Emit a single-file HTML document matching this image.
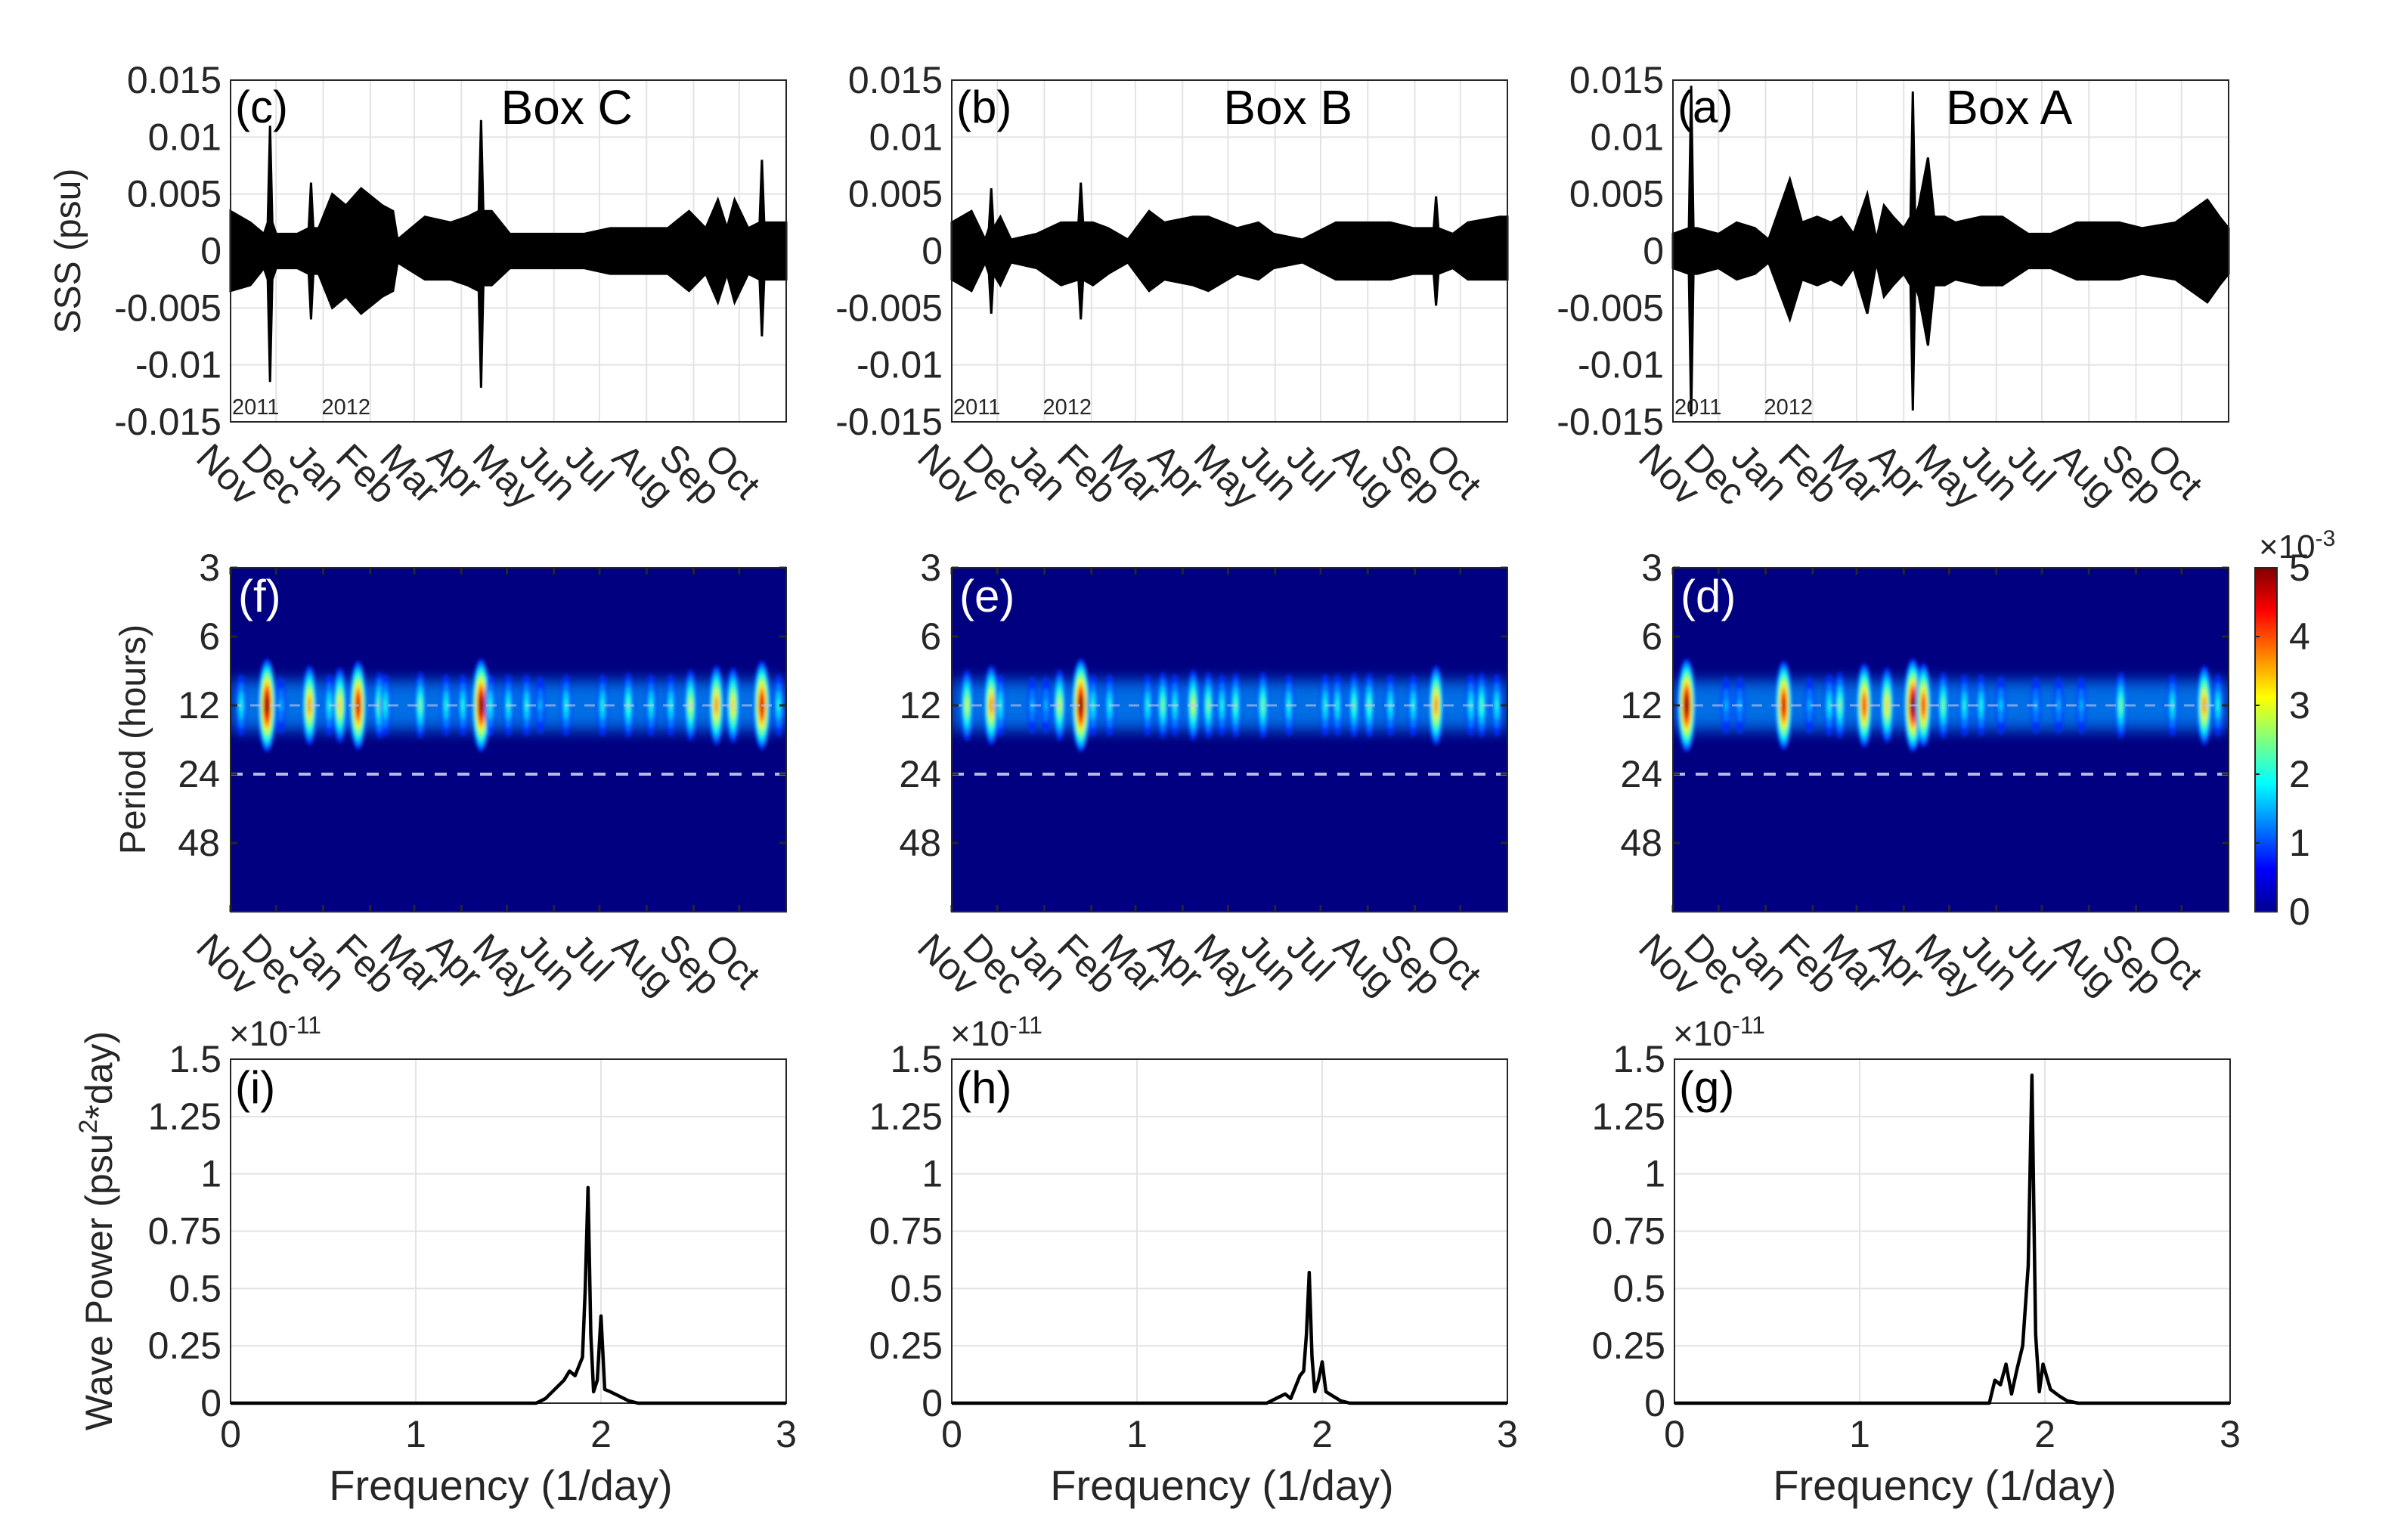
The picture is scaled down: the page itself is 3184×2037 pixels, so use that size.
<!DOCTYPE html>
<html><head><meta charset="utf-8"><style>
html,body{margin:0;padding:0;background:#fff;}
svg{display:block;font-family:"Liberation Sans",sans-serif;}
</style></head><body>
<svg id="fig" width="3184" height="2037" viewBox="0 0 3184 2037" xmlns="http://www.w3.org/2000/svg">
<defs>
<filter id="blur" x="-50%" y="-50%" width="200%" height="200%"><feGaussianBlur stdDeviation="2.5"/></filter>
<filter id="blurBand" x="-10%" y="-100%" width="120%" height="300%"><feGaussianBlur stdDeviation="10"/></filter>
<linearGradient id="jetbar" x1="0" y1="1" x2="0" y2="0">
<stop offset="0" stop-color="#00008f"/><stop offset="0.125" stop-color="#0000ff"/><stop offset="0.375" stop-color="#00ffff"/><stop offset="0.625" stop-color="#ffff00"/><stop offset="0.875" stop-color="#ff0000"/><stop offset="1" stop-color="#800000"/>
</linearGradient>
</defs>
</svg>
<script>
// ---------- DATA ----------
const monthLabels = ["Nov","Dec","Jan","Feb","Mar","Apr","May","Jun","Jul","Aug","Sep","Oct"];
const monthLengths = [30,31,31,29,31,30,31,30,31,31,30,31];
const sssTicks = [0.015,0.01,0.005,0,-0.005,-0.01,-0.015];
const sssTickLabels = ["0.015","0.01","0.005","0","-0.005","-0.01","-0.015"];
const periodTicks = [3,6,12,24,48];
const cbarTicks = [0,1,2,3,4,5];
const freqTicks = [0,1,2,3];
const powTicks = [0,0.25,0.5,0.75,1,1.25,1.5];
const powTickLabels = ["0","0.25","0.5","0.75","1","1.25","1.5"];

// SSS envelope (units 1e-3 psu): days, upper, lower
const cDays  = [0,13,22,24.5,26,27.5,30,44,51.5,53,54.5,58,67,76,86,100,107,110,128,145,156,163.5,165,166.5,172,184,198,219,233,250,267,288,302,313,321,327,332,341,348.5,350,351.5,354,366];
const cUpper = [3.5,2.5,1.5,2.5,11,2.5,1.5,1.5,2,6,2,2,5,4,5.5,4,3.5,1,3,2.5,3,3.5,11.5,3.5,3.5,1.5,1.5,1.5,1.5,2,2,2,3.5,2,4.5,2,4.5,2,2.5,8,2.5,2.5,2.5];
const cLower = [-3.5,-3,-1.5,-2.5,-11.5,-2.5,-1.5,-1.5,-2,-6,-2,-2,-5,-4,-5.5,-4,-3.5,-1,-2.5,-2.5,-3,-3.5,-12,-3,-3,-1.5,-1.5,-1.5,-1.5,-2,-2,-2,-3.5,-2,-4.5,-2,-4.5,-2,-2.5,-7.5,-2.5,-2.5,-2.5];

const bDays  = [0,13,22,24.5,26,27.5,32,39,56,72,83.5,85,86.5,93,103,116,130,140,159,169,188,202,212,231,253,272,289,304,317.5,319,320.5,330,340,361,366];
const bUpper = [2.5,3.5,1,2,5.5,2,3,1,1.5,2.5,2.5,6,2.5,2.5,2,1,3.5,2.5,3,3,2,2.5,1.5,1,2.5,2.5,2.5,2,2,4.8,2,1.5,2.5,3,3];
const bLower = [-2.5,-3.5,-1,-2,-5.5,-2,-3,-1,-1.5,-3,-2.5,-6,-2.5,-3,-2,-1,-3.5,-2.5,-3,-3.5,-2,-2.5,-1.5,-1,-2.5,-2.5,-2.5,-2,-2,-4.8,-2,-1.5,-2.5,-2.5,-2.5];

const aDays  = [0,10.5,12,13.5,16,30,42,54,63,77,85,95,104,111,119,128,134,139,145,152,156.5,158,159.5,162,168,172,179,186,203,217,234,249,266,278,294,309,331,352,360,366];
const aUpper = [1.5,2,14.5,2,2,1.5,2.5,2,1,6.3,2.5,3,2.5,3,1.5,5,1,4,3,2,3,14,3,4,8.2,3,3,2.5,3,3,1.5,1.5,2.5,2.5,2.5,2,2.5,4.5,3,2];
const aLower = [-1.5,-2,-14.5,-2,-2,-1.5,-2.5,-2,-1,-6,-2.5,-3,-2.5,-3,-1.5,-5.5,-1,-4,-3,-2,-3,-14,-3,-4,-8.3,-3,-3,-2.5,-3,-3,-1.5,-1.5,-2.5,-2.5,-2.5,-2,-2.5,-4.5,-3,-2];

// Wavelet blobs at 12 h: day, power (1e-3)
const fDays = [7,24,33,52,65,72,84,98,102,125,142,153,165,171,183,195,204,221,245,262,277,290,303,320,331,350,361];
const fPow  = [1.5,5,1,3.5,1.5,3,4.5,2,1.5,2,1.5,1.5,5,1.5,1.5,1.5,1,1.5,1.5,1.8,1.5,1.5,2.5,3.5,3,4.5,1.5];
const eDays = [10,26,32,53,62,71,85,93,104,129,139,147,159,169,178,187,205,222,246,254,265,275,289,304,319,342,349,359];
const ePow  = [2.5,3.5,1.5,1,1,2.5,5,1.5,1.5,1.5,2,1.5,2.5,2,1.5,1.8,2,1.5,1.5,1.5,1.8,1.8,1.5,1.5,3.5,1.5,1.8,1.5];
const dDays = [9,35,44,73,90,103,110,126,141,158,165,178,192,203,216,239,254,269,295,329,350,359];
const dPow  = [5,1,1,4.5,1,1.5,2,4,3,5,4,2,1.5,1.5,1.2,1,1,1,2,1.5,3.5,1.5];

// Spectra (power in 1e-11)
const iFreq = [0,1.65,1.7,1.75,1.8,1.83,1.86,1.88,1.9,1.915,1.93,1.945,1.96,1.98,2.0,2.02,2.05,2.1,2.15,2.2,3];
const iPow  = [0,0,0.02,0.06,0.1,0.14,0.12,0.16,0.2,0.5,0.94,0.3,0.05,0.1,0.38,0.06,0.05,0.03,0.01,0,0];
const hFreq = [0,1.7,1.75,1.8,1.83,1.86,1.88,1.9,1.915,1.93,1.945,1.96,1.98,2.0,2.02,2.06,2.1,2.15,3];
const hPow  = [0,0,0.02,0.04,0.02,0.08,0.12,0.14,0.3,0.57,0.2,0.05,0.1,0.18,0.05,0.03,0.01,0,0];
const gFreq = [0,1.7,1.73,1.76,1.79,1.82,1.85,1.88,1.91,1.93,1.95,1.97,1.99,2.03,2.08,2.12,2.18,3];
const gPow  = [0,0,0.1,0.08,0.17,0.04,0.15,0.25,0.6,1.43,0.3,0.05,0.17,0.06,0.03,0.01,0,0];

// ---------- RENDER ----------
const svg = document.getElementById('fig');
const NS = "http://www.w3.org/2000/svg";
function mk(tag, attrs, parent){const e=document.createElementNS(NS,tag);for(const k in attrs)e.setAttribute(k,attrs[k]);(parent||svg).appendChild(e);return e;}
const colX = [305,1259,2213], PW = 735;
const R1=[106,558], R2=[751,1206], R3=[1401,1856];
const TICK=50;
const totalDays = monthLengths.reduce((a,b)=>a+b,0);
const monthStarts=[]; {let s=0; for(const m of monthLengths){monthStarts.push(s); s+=m;}}

function jet(v){
  const f=(x)=>Math.max(0,Math.min(1,x));
  const r=f(Math.min(4*v-1.5,-4*v+4.5)), g=f(Math.min(4*v-0.5,-4*v+3.5)), b=f(Math.min(4*v+0.5,-4*v+2.5));
  return `rgb(${Math.round(r*255)},${Math.round(g*255)},${Math.round(b*255)})`;
}

function monthLabelsAt(x0, yb, xs, gname){
  const g=mk('g',{});
  
  
  monthLabels.forEach((m,i)=>{
    const tx=xs(monthStarts[i])-48, ty=yb+50;
    const t=mk('text',{x:tx,y:ty,'font-size':50,fill:'#262626',transform:`rotate(45 ${tx} ${ty})`},g);
    t.textContent=m;
    
    
  });
}

// ---- Row 1 ----
const seriesTop = [
  {days:cDays,up:cUpper,lo:cLower,lab:"(c)",box:"Box C"},
  {days:bDays,up:bUpper,lo:bLower,lab:"(b)",box:"Box B"},
  {days:aDays,up:aUpper,lo:aLower,lab:"(a)",box:"Box A"}];
seriesTop.forEach((s,ci)=>{
  const x0=colX[ci], x1=x0+PW, y0=R1[0], y1=R1[1];
  const xs=d=>x0+d/totalDays*PW;
  const ys=v=>y1-(v+0.015)/0.03*(y1-y0);
  const g=mk('g',{});
  
  
  monthStarts.forEach(d=>{ if(d>0){const l=mk('line',{x1:xs(d),x2:xs(d),y1:y0,y2:y1,stroke:'#e3e3e3','stroke-width':2},g);  }});
  sssTicks.forEach(v=>{const l=mk('line',{x1:x0,x2:x1,y1:ys(v),y2:ys(v),stroke:'#e3e3e3','stroke-width':2},g);  });
  let pts=s.days.map((d,i)=>xs(d)+','+ys(s.up[i]/1000));
  pts=pts.concat(s.days.map((d,i)=>xs(d)+','+ys(s.lo[i]/1000)).reverse());
  const p=mk('polygon',{points:pts.join(' '),fill:'#000',stroke:'#000','stroke-width':3},g);
  
  
  const fr=mk('rect',{x:x0,y:y0,width:PW,height:y1-y0,fill:'none',stroke:'#262626','stroke-width':2},g);
   
  sssTicks.forEach((v,i)=>{const t=mk('text',{x:x0-12,y:ys(v)+17,'text-anchor':'end','font-size':TICK,fill:'#262626'},g); t.textContent=sssTickLabels[i];  });
  const y11=mk('text',{x:x0+2,y:y1-10,'font-size':29,fill:'#262626'},g); y11.textContent='2011';
   
  const y12=mk('text',{x:xs(monthStarts[2])-2,y:y1-10,'font-size':29,fill:'#262626'},g); y12.textContent='2012';
   
  const pl=mk('text',{x:x0+6,y:y0+56,'font-size':60,fill:'#000'},g); pl.textContent=s.lab;
   
  const bt=mk('text',{x:x0+PW*0.605,y:y0+58,'text-anchor':'middle','font-size':64,fill:'#000'},g); bt.textContent=s.box;
   
  monthLabelsAt(x0,y1,xs,'x-tick-labels-months');
});
{const t=mk('text',{x:0,y:0,'font-size':48,fill:'#262626','text-anchor':'middle',transform:'translate(106 332) rotate(-90)'}); t.textContent='SSS (psu)';  }

// ---- Row 2 ----
const seriesMid=[{days:fDays,pow:fPow,lab:"(f)"},{days:eDays,pow:ePow,lab:"(e)"},{days:dDays,pow:dPow,lab:"(d)"}];
seriesMid.forEach((s,ci)=>{
  const x0=colX[ci], x1=x0+PW, y0=R2[0], y1=R2[1];
  const xs=d=>x0+d/totalDays*PW;
  const ys=p=>y0+Math.log2(p/3)/5*(y1-y0);
  const g=mk('g',{});
  
  
  const clipId='clip'+ci;
  const cp=mk('clipPath',{id:clipId},g); mk('rect',{x:x0,y:y0,width:PW,height:y1-y0},cp);
  const bg=mk('rect',{x:x0,y:y0,width:PW,height:y1-y0,fill:jet(0)},g);
   
  const inner=mk('g',{'clip-path':`url(#${clipId})`},g);
  const band=mk('rect',{x:x0,y:ys(12)-32,width:PW,height:64,fill:jet(0.26),opacity:0.8,filter:'url(#blurBand)'},inner);
   
  const bl=mk('g',{filter:'url(#blur)'},inner);
  s.days.forEach((d,i)=>{
    const P=s.pow[i];
    const cell=mk('g',{},bl);
    
    
    const steps=Math.max(2,Math.round(P*2));
    for(let k=0;k<=steps;k++){
      const lev=P*k/steps;
      const sc=1-0.8*k/steps;
      mk('ellipse',{cx:xs(d),cy:ys(12),rx:(5+P*1.4)*sc,ry:(32+P*6)*sc,fill:jet(0.17+lev/5*0.83)},cell);
    }
  });
  const d12=mk('line',{x1:x0,x2:x1,y1:ys(12),y2:ys(12),stroke:'#c8c8f0','stroke-width':3,'stroke-dasharray':'14 12',opacity:0.6},inner);
   
  const d24=mk('line',{x1:x0,x2:x1,y1:ys(24),y2:ys(24),stroke:'#b8b8e8','stroke-width':4,'stroke-dasharray':'16 14'},inner);
   
  const fr=mk('rect',{x:x0,y:y0,width:PW,height:y1-y0,fill:'none',stroke:'#262626','stroke-width':2},g);
   
  monthStarts.forEach(d=>{mk('line',{x1:xs(d),x2:xs(d),y1:y0,y2:y0+9,stroke:'#262626','stroke-width':3},g);mk('line',{x1:xs(d),x2:xs(d),y1:y1-9,y2:y1,stroke:'#262626','stroke-width':3},g);});
  periodTicks.forEach(p=>{
    mk('line',{x1:x0,x2:x0+9,y1:ys(p),y2:ys(p),stroke:'#262626','stroke-width':3},g);
    mk('line',{x1:x1-9,x2:x1,y1:ys(p),y2:ys(p),stroke:'#262626','stroke-width':3},g);
    const t=mk('text',{x:x0-14,y:ys(p)+17,'text-anchor':'end','font-size':TICK,fill:'#262626'},g); t.textContent=String(p);
     
  });
  const pl=mk('text',{x:x0+10,y:y0+58,'font-size':60,fill:'#fff'},g); pl.textContent=s.lab;
   
  monthLabelsAt(x0,y1,xs,'x-tick-labels-months');
});
{const t=mk('text',{x:0,y:0,'font-size':48,fill:'#262626','text-anchor':'middle',transform:'translate(192 978) rotate(-90)'}); t.textContent='Period (hours)';  }
{
  const cx0=2983,cw=29,cy0=751,cy1=1206;
  const g=mk('g',{});  
  mk('rect',{x:cx0,y:cy0,width:cw,height:cy1-cy0,fill:'url(#jetbar)',stroke:'#262626','stroke-width':2},g);
  cbarTicks.forEach(v=>{const y=cy1-v/5*(cy1-cy0);
    mk('line',{x1:cx0,x2:cx0+6,y1:y,y2:y,stroke:'#262626','stroke-width':2},g);
    const t=mk('text',{x:cx0+cw+16,y:y+17,'font-size':TICK,fill:'#262626'},g); t.textContent=String(v);
     });
  const ex=mk('text',{x:2988,y:738,'font-size':44,fill:'#262626'},g);
  ex.innerHTML='×10<tspan dy="-16" font-size="30">-3</tspan>';
   
}

// ---- Row 3 ----
const seriesBot=[{f:iFreq,p:iPow,lab:"(i)"},{f:hFreq,p:hPow,lab:"(h)"},{f:gFreq,p:gPow,lab:"(g)"}];
seriesBot.forEach((s,ci)=>{
  const x0=colX[ci]+(ci==2?2:0), x1=x0+PW, y0=R3[0], y1=R3[1];
  const xs=f=>x0+f/3*PW;
  const ys=v=>y1-v/1.5*(y1-y0);
  const g=mk('g',{});
  
  
  [1,2].forEach(f=>{const l=mk('line',{x1:xs(f),x2:xs(f),y1:y0,y2:y1,stroke:'#e3e3e3','stroke-width':2},g);  });
  powTicks.forEach(v=>{const l=mk('line',{x1:x0,x2:x1,y1:ys(v),y2:ys(v),stroke:'#e3e3e3','stroke-width':2},g);  });
  const fr=mk('rect',{x:x0,y:y0,width:PW,height:y1-y0,fill:'none',stroke:'#262626','stroke-width':2},g);
   
  const line=mk('polyline',{points:s.f.map((f,i)=>xs(f)+','+ys(s.p[i])).join(' '),fill:'none',stroke:'#000','stroke-width':4.5,'stroke-linejoin':'round'},g);
   
  powTicks.forEach((v,i)=>{const t=mk('text',{x:x0-12,y:ys(v)+17,'text-anchor':'end','font-size':TICK,fill:'#262626'},g); t.textContent=powTickLabels[i];  });
  freqTicks.forEach(f=>{const t=mk('text',{x:xs(f),y:y1+58,'text-anchor':'middle','font-size':TICK,fill:'#262626'},g); t.textContent=String(f);  });
  const xt=mk('text',{x:x0+PW/2-10,y:y1+128,'text-anchor':'middle','font-size':56,fill:'#262626'},g); xt.textContent='Frequency (1/day)';
   
  const ex=mk('text',{x:x0-2,y:y0-18,'font-size':46,fill:'#262626'},g);
  ex.innerHTML='×10<tspan dy="-16" font-size="32">-11</tspan>';
   
  const pl=mk('text',{x:x0+6,y:y0+58,'font-size':60,fill:'#000'},g); pl.textContent=s.lab;
   
});
{const t=mk('text',{x:0,y:0,'font-size':50,fill:'#262626','text-anchor':'middle',transform:'translate(148 1628) rotate(-90)'}); t.innerHTML='Wave Power (psu<tspan dy="-20" font-size="34">2</tspan><tspan dy="20">*day)</tspan>';  }
</script>
</body></html>
